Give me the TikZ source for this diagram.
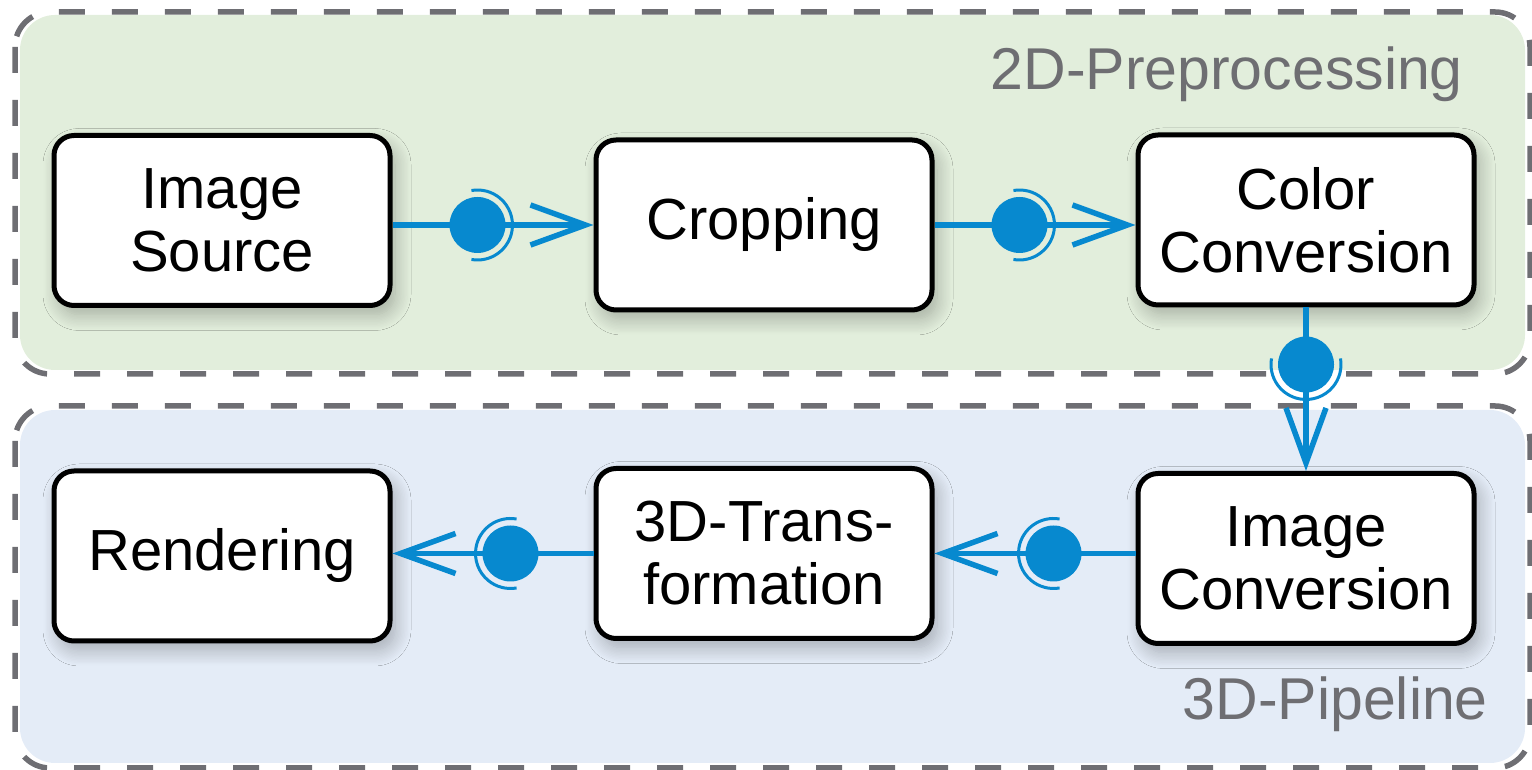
\documentclass[tikz,border=0pt]{standalone}
\usepackage{fontspec}
\setmainfont{Liberation Sans}
\usetikzlibrary{arrows.meta,calc,shadows.blur,backgrounds}
\definecolor{grpgreen}{HTML}{E2EEDC}
\definecolor{grpblue}{HTML}{E4ECF7}
\definecolor{dashgray}{HTML}{6E6E73}
\definecolor{connblue}{HTML}{0789CF}
\definecolor{titlegray}{HTML}{6E6E72}
\begin{document}
\begin{tikzpicture}[x=1pt,y=1pt,
  stepbox/.style={draw=black, line width=5pt, fill=white, rounded corners=20pt,
    minimum width=336pt, minimum height=170pt, align=center, inner sep=0pt,
    font=\fontsize{58}{63}\selectfont,
    blur shadow={shadow xshift=5pt, shadow yshift=-9pt, shadow blur radius=16pt, shadow blur steps=12, shadow opacity=28}},
  grpfill/.style={rounded corners=35pt},
  grpframe/.style={draw=dashgray, line width=5.5pt, dash pattern=on 26pt off 27pt, rounded corners=35pt},
  grptitle/.style={text=titlegray, font=\fontsize{59}{64}\selectfont, inner sep=0pt, anchor=base east},
  conn/.style={draw=connblue, line width=5.5pt, -{Straight Barb[length=55pt,width=40pt]}},
  ball/.style={circle, fill=connblue, minimum size=56pt, inner sep=0pt},
  socket/.style={draw=connblue, line width=3pt}
]
\useasboundingbox (0,0) rectangle (1532,770);

% groups
\fill[grpgreen, grpfill] (20,755) rectangle (1525,400);
\draw[grpframe] (15,758) rectangle (1530,396);
\fill[grpblue, grpfill] (20,360) rectangle (1525,7);
\draw[grpframe] (15,364) rectangle (1530,2);

\node[grptitle] (t1) at (1463,680) {2D-Preprocessing};
\node[grptitle] (t2) at (1488,50) {3D-Pipeline};

% boxes
\node[stepbox] (src) at (222,549.5) {Image\\Source};
\node[stepbox] (crop) at (764,545) {Cropping};
\node[stepbox] (color) at (1306,550) {Color\\Conversion};
\node[stepbox] (imgconv) at (1306,211.5) {Image\\Conversion};
\node[stepbox] (trans) at (764,216.5) {3D-Trans-\\formation};
\node[stepbox] (render) at (222,214) {Rendering};

% connectors
\draw[conn] (src.east |- crop) -- (crop.west);
\node[ball] (b1) at ($(src.east |- crop)+(85,0)$) {};
\draw[socket] (b1.center) ++(-100:35) arc[start angle=-100, end angle=100, radius=35pt];

\draw[conn] (crop.east) -- (crop.east -| color.west);
\node[ball] (b2) at ($(crop.east)+(85,0)$) {};
\draw[socket] (b2.center) ++(-100:35) arc[start angle=-100, end angle=100, radius=35pt];

\draw[conn] (color.south) -- (imgconv.north);
\node[ball] (b3) at ($(color.south)+(0,-57)$) {};
\draw[socket] (b3.center) ++(170:35) arc[start angle=170, end angle=370, radius=35pt];

\draw[conn] (imgconv.west |- trans) -- (trans.east);
\node[ball] (b4) at ($(imgconv.west |- trans)+(-82,0)$) {};
\draw[socket] (b4.center) ++(80:35) arc[start angle=80, end angle=280, radius=35pt];

\draw[conn] (trans.west) -- (trans.west -| render.east);
\node[ball] (b5) at ($(trans.west)+(-83,0)$) {};
\draw[socket] (b5.center) ++(80:35) arc[start angle=80, end angle=280, radius=35pt];
\end{tikzpicture}
\end{document}
